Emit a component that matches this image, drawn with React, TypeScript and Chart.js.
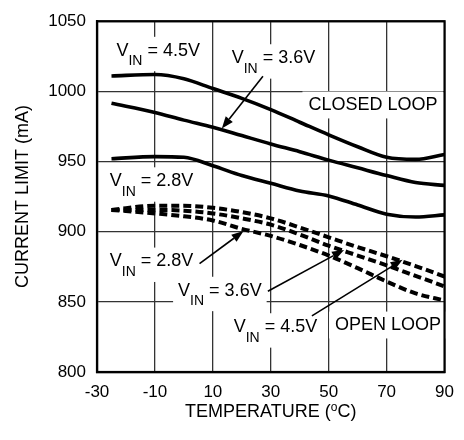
import React, { useEffect, useRef } from 'react';
import { Chart, registerables } from 'chart.js';

Chart.register(...registerables);

const FONT = '"Liberation Sans", Arial, Helvetica, sans-serif';

// Temperature (°C) sample points
const temps = [-25, -10, 0, 10, 20, 30, 40, 50, 60, 70, 80, 90];

// Closed loop current limit (mA)
const closed45 = [1011, 1012, 1009, 1002, 995, 987, 978, 969, 960.5, 953, 951.5, 955];
const closed36 = [991.5, 985, 979.5, 974.5, 968.5, 962.5, 957, 951, 945.5, 940, 935, 933];
const closed28 = [952, 953.5, 953, 947, 940, 934.5, 929, 925.5, 919, 912.5, 910.5, 912];

// Open loop current limit (mA)
const open45 = [915.5, 918.5, 918.5, 917, 914, 909.5, 903, 896, 889, 882.5, 875.5, 868];
const open36 = [915.5, 915.5, 915, 913, 909.5, 905, 898, 890, 883, 876, 868.5, 861];
const open28 = [915.5, 913, 911, 908, 902, 897, 890.5, 883, 874, 864.5, 856, 851];

const xTicks = [-30, -10, 10, 30, 50, 70, 90];
const yTicks = [800, 850, 900, 950, 1000, 1050];

// Annotation labels (data coordinates: temperature, mA)
const vinLabels = [
  { t: -23.3, i: 1030, v: '4.5V' },
  { t: 16.5, i: 1024.7, v: '3.6V' },
  { t: -25.6, i: 937, v: '2.8V' },
  { t: -25.6, i: 879.8, v: '2.8V' },
  { t: -2, i: 859, v: '3.6V' },
  { t: 17.2, i: 833, v: '4.5V' },
];
const plainLabels = [
  { t: 43, i: 991, text: 'CLOSED LOOP' },
  { t: 52.2, i: 834.2, text: 'OPEN LOOP' },
];
const arrows = [
  { t0: 27.3, i0: 1010.7, t1: 13.1, i1: 973.5 },
  { t0: 5.4, i0: 877.2, t1: 20.6, i1: 900.4 },
  { t0: 29, i0: 857.6, t1: 55.3, i1: 887 },
  { t0: 44.2, i0: 840, t1: 75.5, i1: 880 },
];

const toPts = (ys: number[]) => temps.map((t, k) => ({ x: t, y: ys[k] }));

const annotPlugin = {
  id: 'annot',
  beforeDatasetsDraw(chart: any) {
    const ctx = chart.ctx as CanvasRenderingContext2D;
    const xs = chart.scales.x;
    const ys = chart.scales.y;
    const fs = 18;
    const subFs = 14;
    const capH = fs * 0.716;
    ctx.save();
    // V_IN labels
    vinLabels.forEach((l) => {
      const x = xs.getPixelForValue(l.t);
      const yc = ys.getPixelForValue(l.i);
      const base = yc + capH / 2;
      ctx.font = `${fs}px ${FONT}`;
      const w1 = ctx.measureText('V').width;
      const w3 = ctx.measureText(' = ' + l.v).width;
      ctx.font = `${subFs}px ${FONT}`;
      const w2 = ctx.measureText('IN').width;
      const total = w1 + w2 + w3;
      ctx.fillStyle = '#fff';
      ctx.fillRect(x - 5, yc - capH / 2 - 6, total + 10, capH + 9.5 + 12);
      ctx.fillStyle = '#000';
      ctx.textBaseline = 'alphabetic';
      ctx.textAlign = 'left';
      ctx.font = `${fs}px ${FONT}`;
      ctx.fillText('V', x, base);
      ctx.font = `${subFs}px ${FONT}`;
      ctx.fillText('IN', x + w1, base + 9.5);
      ctx.font = `${fs}px ${FONT}`;
      ctx.fillText(' = ' + l.v, x + w1 + w2, base);
    });
    plainLabels.forEach((l) => {
      const x = xs.getPixelForValue(l.t);
      const yc = ys.getPixelForValue(l.i);
      ctx.font = `${fs}px ${FONT}`;
      const w = ctx.measureText(l.text).width;
      ctx.fillStyle = '#fff';
      ctx.fillRect(x - 6, yc - capH / 2 - 6, w + 12, capH + 14);
      ctx.fillStyle = '#000';
      ctx.textBaseline = 'alphabetic';
      ctx.textAlign = 'left';
      ctx.fillText(l.text, x, yc + capH / 2);
    });
    // arrows
    arrows.forEach((a) => {
      const x0 = xs.getPixelForValue(a.t0);
      const y0 = ys.getPixelForValue(a.i0);
      const x1 = xs.getPixelForValue(a.t1);
      const y1 = ys.getPixelForValue(a.i1);
      const ang = Math.atan2(y1 - y0, x1 - x0);
      const hl = 12;
      const hw = 4.5;
      const bx = x1 - hl * Math.cos(ang);
      const by = y1 - hl * Math.sin(ang);
      ctx.strokeStyle = '#000';
      ctx.lineWidth = 1.6;
      ctx.beginPath();
      ctx.moveTo(x0, y0);
      ctx.lineTo(bx, by);
      ctx.stroke();
      ctx.fillStyle = '#000';
      ctx.beginPath();
      ctx.moveTo(x1, y1);
      ctx.lineTo(bx + hw * Math.sin(ang), by - hw * Math.cos(ang));
      ctx.lineTo(bx - hw * Math.sin(ang), by + hw * Math.cos(ang));
      ctx.closePath();
      ctx.fill();
    });
    ctx.restore();
  },
  afterDatasetsDraw(chart: any) {
    const ctx = chart.ctx as CanvasRenderingContext2D;
    const a = chart.chartArea;
    ctx.save();
    ctx.strokeStyle = '#000';
    ctx.lineWidth = 2.2;
    ctx.strokeRect(a.left, a.top, a.right - a.left, a.bottom - a.top);
    ctx.restore();
  },
  afterDraw(chart: any) {
    const ctx = chart.ctx as CanvasRenderingContext2D;
    const a = chart.chartArea;
    ctx.save();
    ctx.fillStyle = '#000';
    ctx.textBaseline = 'middle';
    // x title with superscript o
    const fs = 18;
    const p1 = 'TEMPERATURE (';
    const p3 = 'C)';
    ctx.font = `${fs}px ${FONT}`;
    const w1 = ctx.measureText(p1).width;
    const w3 = ctx.measureText(p3).width;
    ctx.font = `${12}px ${FONT}`;
    const w2 = ctx.measureText('o').width;
    const tot = w1 + w2 + w3;
    const cx = (a.left + a.right) / 2;
    const ty = 412;
    let x = cx - tot / 2;
    ctx.textAlign = 'left';
    ctx.font = `${fs}px ${FONT}`;
    ctx.fillText(p1, x, ty);
    x += w1;
    ctx.font = `${12}px ${FONT}`;
    ctx.fillText('o', x, ty - 4);
    x += w2;
    ctx.font = `${fs}px ${FONT}`;
    ctx.fillText(p3, x, ty);
    // y title
    ctx.translate(23, (a.top + a.bottom) / 2);
    ctx.rotate(-Math.PI / 2);
    ctx.textAlign = 'center';
    ctx.fillText('CURRENT LIMIT (mA)', 0, 0);
    ctx.restore();
  },
};

export default function App() {
  const ref = useRef<HTMLCanvasElement | null>(null);
  useEffect(() => {
    if (!ref.current) return;
    const solid = (data: number[]) => ({
      data: toPts(data),
      borderColor: '#000',
      borderWidth: 3.6,
      pointRadius: 0,
      fill: false,
      cubicInterpolationMode: 'monotone' as const,
    });
    const dashed = (data: number[]) => ({
      data: toPts(data),
      borderColor: '#000',
      borderWidth: 4,
      borderDash: [8, 4],
      pointRadius: 0,
      fill: false,
      cubicInterpolationMode: 'monotone' as const,
    });
    const chart = new Chart(ref.current, {
      type: 'line',
      data: {
        datasets: [
          { label: 'Closed VIN = 4.5V', ...solid(closed45) },
          { label: 'Closed VIN = 3.6V', ...solid(closed36) },
          { label: 'Closed VIN = 2.8V', ...solid(closed28) },
          { label: 'Open VIN = 4.5V', ...dashed(open45) },
          { label: 'Open VIN = 3.6V', ...dashed(open36) },
          { label: 'Open VIN = 2.8V', ...dashed(open28) },
        ],
      },
      options: {
        animation: false,
        responsive: false,
        maintainAspectRatio: false,
        layout: { padding: { left: 0, right: 11, top: 16, bottom: 0 } },
        plugins: { legend: { display: false }, tooltip: { enabled: false } },
        scales: {
          x: {
            type: 'linear',
            min: -30,
            max: 90,
            afterBuildTicks: (s: any) => {
              s.ticks = xTicks.map((v) => ({ value: v }));
            },
            afterFit: (s: any) => {
              s.height = 68;
            },
            grid: { color: '#333', lineWidth: 1.3, drawTicks: false },
            border: { display: true, color: '#000', width: 2.2 },
            ticks: {
              padding: 10,
              color: '#000',
              font: { family: FONT, size: 17 },
              maxRotation: 0,
              autoSkip: false,
              callback: (v: any) => String(v),
            },
          },
          y: {
            type: 'linear',
            min: 800,
            max: 1050,
            afterBuildTicks: (s: any) => {
              s.ticks = yTicks.map((v) => ({ value: v }));
            },
            afterFit: (s: any) => {
              s.width = 97;
            },
            grid: { color: '#333', lineWidth: 1.3, drawTicks: false },
            border: { display: true, color: '#000', width: 2.2 },
            ticks: {
              padding: 11,
              color: '#000',
              font: { family: FONT, size: 17 },
              autoSkip: false,
              callback: (v: any) => String(v),
            },
          },
        },
      },
      plugins: [annotPlugin],
    });
    return () => chart.destroy();
  }, []);
  return (
    <div style={{ position: 'absolute', left: 0, top: 0, width: 464, height: 440, background: '#fff' }}>
      <canvas ref={ref} width={464} height={440} style={{ width: 464, height: 440, display: 'block' }} />
    </div>
  );
}
